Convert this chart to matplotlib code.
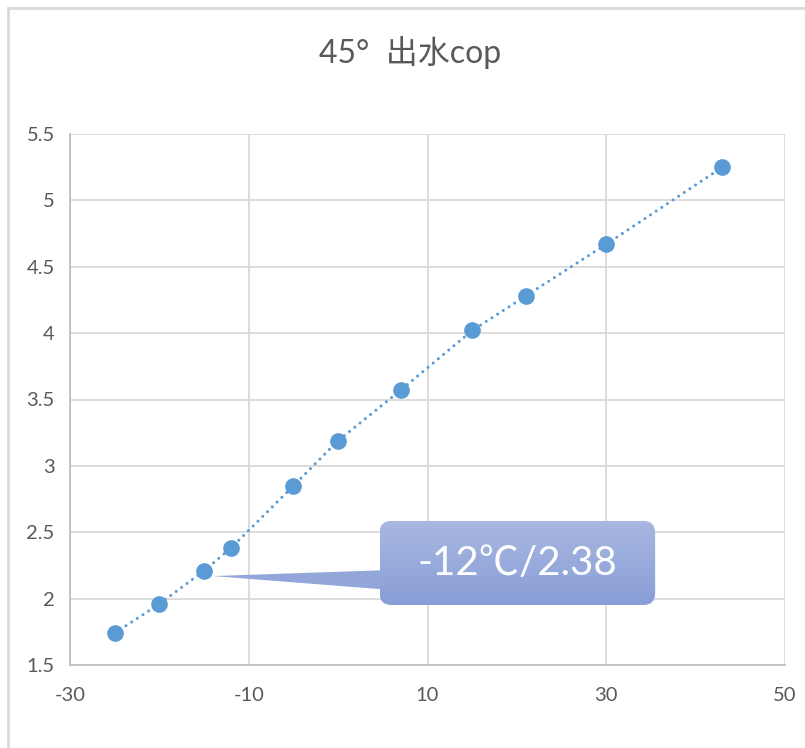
import numpy as np
import matplotlib
matplotlib.use("Agg")
import matplotlib.pyplot as plt
from matplotlib.patches import FancyBboxPatch, Polygon

# outdoor temperature (°C) vs. COP at 45° outlet water
temps = [-25, -20, -15, -12, -5, 0, 7, 15, 21, 30, 43]
cops = [1.74, 1.96, 2.21, 2.38, 2.85, 3.19, 3.57, 4.02, 4.28, 4.67, 5.25]
x_ticks = [-30, -10, 10, 30, 50]
y_ticks = [1.5, 2, 2.5, 3, 3.5, 4, 4.5, 5, 5.5]
title = "45°  出水cop"
callout = "-12℃/2.38"

plt.rcParams['axes.unicode_minus'] = False
FONTS = ['Lato', 'Noto Sans CJK SC', 'DejaVu Sans']
GREY = '#595959'
BLUE = '#5b9bd5'

fig = plt.figure(figsize=(8.05, 7.48), dpi=100)
ax = fig.add_axes([70 / 805, 83 / 748, 715 / 805, 531 / 748])

# chart frame
fig.add_artist(plt.Line2D([8 / 805, 8 / 805], [0, 740 / 748], color='#d9d9d9', lw=2,
                          transform=fig.transFigure))
fig.add_artist(plt.Line2D([8 / 805, 1], [740 / 748, 740 / 748], color='#d9d9d9', lw=2,
                          transform=fig.transFigure))

ax.plot(temps, cops, color=BLUE, lw=2.2, linestyle=(0, (0.01, 2.2)),
        dash_capstyle='round', zorder=3)
ax.plot(temps, cops, 'o', color=BLUE, markersize=12, markeredgewidth=0, zorder=4)

ax.set_xlim(-30, 50)
ax.set_ylim(1.5, 5.5)
ax.set_xticks(x_ticks)
ax.set_yticks(y_ticks)
ax.set_yticklabels([f"{v:g}" for v in y_ticks])
ax.grid(True, color='#d9d9d9', lw=1.3)
ax.set_axisbelow(True)
for side in ['top', 'right']:
    ax.spines[side].set_visible(False)
for side in ['left', 'bottom']:
    ax.spines[side].set_color('#bfbfbf')
    ax.spines[side].set_linewidth(1.3)
ax.tick_params(length=0, colors=GREY, labelsize=14.5)
ax.tick_params(axis='x', pad=16)
ax.tick_params(axis='y', pad=11)
for lab in ax.get_xticklabels() + ax.get_yticklabels():
    lab.set_family(FONTS)

fig.text(410 / 805, 1 - 52 / 748, title, ha='center', va='center', fontsize=23,
         color=GREY, family=FONTS)

# callout pointing at the -15 point
bx0, bx1, by0, by1 = 4.64, 35.47, 1.952, 2.585
pointer = Polygon([(-14.0, 2.17), (6.0, 2.216), (6.0, 2.065)], closed=True,
                  facecolor='#93a6da', edgecolor='none', zorder=5)
ax.add_patch(pointer)
box = FancyBboxPatch((bx0, by0), bx1 - bx0, by1 - by0,
                     boxstyle='round,pad=0,rounding_size=1.3',
                     mutation_aspect=8.95 / 132.75,
                     facecolor='none', edgecolor='none', zorder=6)
ax.add_patch(box)
grad = np.linspace(0, 1, 256).reshape(-1, 1)
top = np.array([0xa8, 0xb8, 0xe1]) / 255
bot = np.array([0x89, 0x9e, 0xd7]) / 255
img = top + (bot - top) * grad[..., None]
im = ax.imshow(img, extent=(bx0, bx1, by0, by1), origin='upper', aspect='auto',
               zorder=6)
im.set_clip_path(box)
ax.text((bx0 + bx1) / 2, 2.268, callout, ha='center', va='center', fontsize=29,
        color='white', family=FONTS, zorder=7)

ax.set_xlim(-30, 50)
ax.set_ylim(1.5, 5.5)

fig.savefig("out.png", dpi=100)
